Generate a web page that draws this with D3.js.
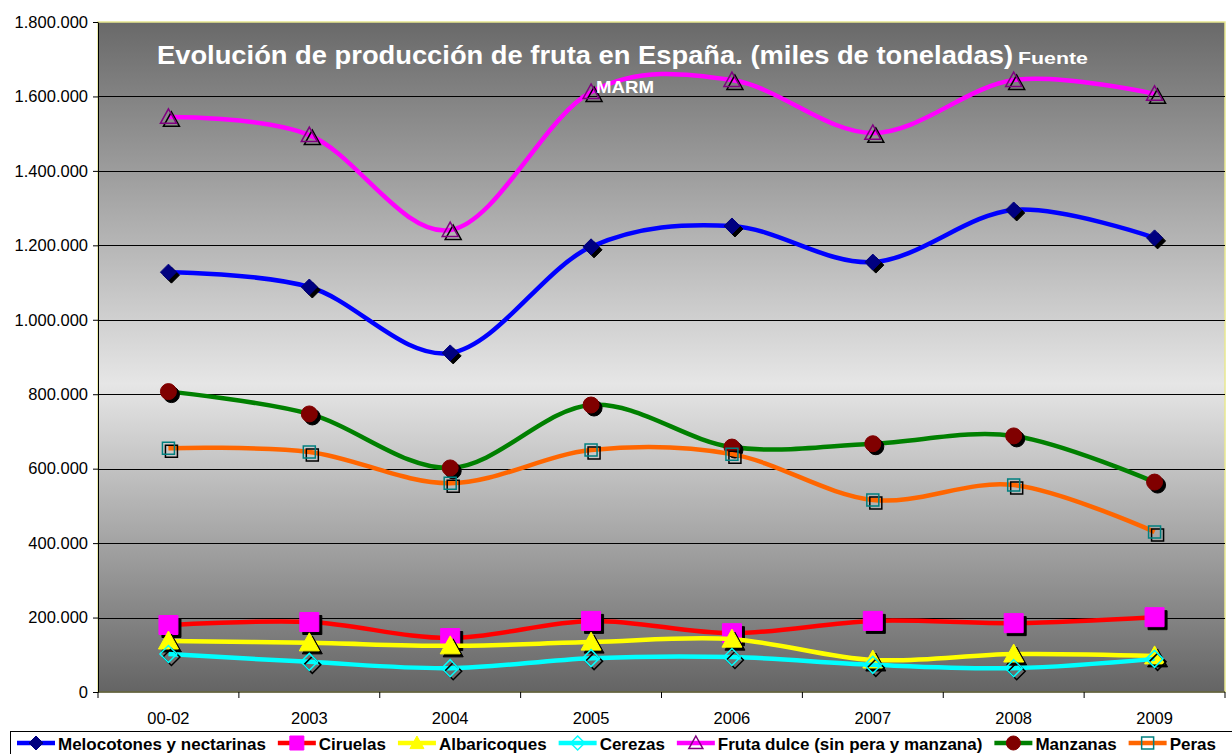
<!DOCTYPE html>
<html>
<head>
<meta charset="utf-8">
<script src="https://cdn.jsdelivr.net/npm/d3@7"></script>
<style>
  body { margin: 0; background: #fff; }
  svg { display: block; font-family: "Liberation Sans", Arial, sans-serif; }
</style>
</head>
<body>
<div id="graphicContainer"></div>
<script>
var years = ["00-02", "2003", "2004", "2005", "2006", "2007", "2008", "2009"]
var yTicks = [0, 200000, 400000, 600000, 800000, 1000000, 1200000, 1400000, 1600000, 1800000]

var melocotones = [1128000, 1088000, 911000, 1196000, 1252000, 1155000, 1295000, 1220000]
var ciruelas = [180000, 188000, 145000, 191000, 158000, 191000, 185000, 201000]
var albaricoques = [137000, 132000, 124000, 134000, 142000, 86000, 102000, 97000]
var cerezas = [102000, 81000, 64000, 91000, 94000, 73000, 64000, 89000]
var frutaDulce = [1545000, 1496000, 1241000, 1612000, 1644000, 1502000, 1644000, 1607000]
var manzanas = [807000, 747000, 602000, 771000, 658000, 667000, 688000, 564000]
var peras = [655000, 645000, 561000, 650000, 639000, 516000, 556000, 430000]

var series = [
	{name: "Melocotones y nectarinas", values: melocotones, line: "#0000ff", marker: "diamond", fill: "#000080", stroke: "#000080", size: 16},
	{name: "Ciruelas", values: ciruelas, line: "#ff0000", marker: "square", fill: "#ff00ff", stroke: "#ff00ff", size: 19},
	{name: "Albaricoques", values: albaricoques, line: "#ffff00", marker: "triangle", fill: "#ffff00", stroke: "#ffff00", size: 20},
	{name: "Cerezas", values: cerezas, line: "#00ffff", marker: "diamond", fill: "none", stroke: "#00ffff", size: 17},
	{name: "Fruta dulce (sin pera y manzana)", values: frutaDulce, line: "#ff00ff", marker: "triangle", fill: "none", stroke: "#800080", size: 16},
	{name: "Manzanas", values: manzanas, line: "#008000", marker: "circle", fill: "#800000", stroke: "#800000", size: 16},
	{name: "Peras", values: peras, line: "#ff6600", marker: "square", fill: "none", stroke: "#008080", size: 12}
]

var width = 1232, height = 754
var margin = {top: 22, right: 7, bottom: 62, left: 98}

var svg = d3.select("#graphicContainer").append("svg")
	.attr("width", width)
	.attr("height", height)

var defs = svg.append("defs")
var grad = defs.append("linearGradient")
	.attr("id", "bg")
	.attr("x1", 0).attr("y1", 0).attr("x2", 0).attr("y2", 1)
grad.append("stop").attr("offset", "0%").attr("stop-color", "#696969")
grad.append("stop").attr("offset", "54%").attr("stop-color", "#e6e6e6")
grad.append("stop").attr("offset", "100%").attr("stop-color", "#646464")

var x = d3.scaleBand()
	.domain(years)
	.range([margin.left, width - margin.right])

var y = d3.scaleLinear()
	.domain([0, 1800000])
	.range([height - margin.bottom, margin.top])

var fmt = d3.formatLocale({decimal: ",", thousands: ".", grouping: [3], currency: ["", ""]}).format(",")

// plot area
svg.append("rect")
	.attr("x", margin.left)
	.attr("y", margin.top)
	.attr("width", width - margin.left - margin.right)
	.attr("height", height - margin.top - margin.bottom)
	.attr("fill", "url(#bg)")
	.attr("stroke", "#e8e890")
	.attr("stroke-width", 1.5)

// gridlines
svg.append("g")
	.selectAll("line")
	.data(yTicks.filter(d => d > 0 && d < 1800000))
	.join("line")
		.attr("x1", margin.left)
		.attr("x2", width - margin.right)
		.attr("y1", d => Math.round(y(d)) + 0.5)
		.attr("y2", d => Math.round(y(d)) + 0.5)
		.attr("stroke", "#000")
		.attr("stroke-width", 1)

// y axis
var yAxis = svg.append("g")
	.attr("transform", `translate(${margin.left},0)`)
	.call(d3.axisLeft(y).tickValues(yTicks).tickFormat(fmt).tickSize(5).tickSizeOuter(0))
yAxis.select(".domain").attr("stroke", "#000")
yAxis.selectAll("text")
	.attr("font-size", 16.5)
	.attr("font-family", "Liberation Sans, Arial, sans-serif")
	.attr("fill", "#000")
	.attr("x", -10)

// x axis
var xAxisG = svg.append("g")
	.attr("transform", `translate(0,${height - margin.bottom})`)
xAxisG.append("line")
	.attr("x1", margin.left)
	.attr("x2", width - margin.right)
	.attr("stroke", "#000")
xAxisG.selectAll(".tk")
	.data(years.concat(["end"]))
	.join("line")
		.attr("class", "tk")
		.attr("x1", (d, i) => i < years.length ? x(d) : x.range()[1])
		.attr("x2", (d, i) => i < years.length ? x(d) : x.range()[1])
		.attr("y1", 0)
		.attr("y2", 6)
		.attr("stroke", "#000")
xAxisG.selectAll("text")
	.data(years)
	.join("text")
		.attr("x", d => x(d) + x.bandwidth() / 2)
		.attr("y", 32)
		.attr("text-anchor", "middle")
		.attr("font-size", 16.5)
		.text(d => d)

var line = d3.line()
	.curve(d3.curveCardinal.tension(0))
	.x((d, i) => x(years[i]) + x.bandwidth() / 2)
	.y(d => y(d))

function markerPath(type, size) {
	var s = size / 2
	if (type == "diamond") return `M0,${-s}L${s},0L0,${s}L${-s},0Z`
	if (type == "square") return `M${-s},${-s}H${s}V${s}H${-s}Z`
	if (type == "triangle") return `M0,${-s}L${s},${s * 0.8}L${-s},${s * 0.8}Z`
	return d3.arc()({innerRadius: 0, outerRadius: s, startAngle: 0, endAngle: 2 * Math.PI})
}

var plot = svg.append("g")

series.forEach(s => {
	var g = plot.append("g")
	g.append("path")
		.datum(s.values)
		.attr("fill", "none")
		.attr("stroke", s.line)
		.attr("stroke-width", 4.5)
		.attr("d", line)

	var pts = g.selectAll(".pt")
		.data(s.values)
		.join("g")
			.attr("class", "pt")
			.attr("transform", (d, i) => `translate(${x(years[i]) + x.bandwidth() / 2},${y(d)})`)
	// shadow
	pts.append("path")
		.attr("d", markerPath(s.marker, s.size))
		.attr("transform", "translate(3,3)")
		.attr("fill", s.fill == "none" ? "none" : "#000")
		.attr("stroke", "#000")
		.attr("stroke-width", s.fill == "none" ? 1.5 : 1)
	pts.append("path")
		.attr("d", markerPath(s.marker, s.size))
		.attr("fill", s.fill)
		.attr("stroke", s.stroke)
		.attr("stroke-width", s.fill == "none" ? 1.5 : 1)
})

// title
var titleG = svg.append("g")
	.attr("fill", "#fff")
	.attr("font-weight", "bold")
titleG.append("text")
	.attr("x", 157)
	.attr("y", 64)
	.attr("font-size", 26)
	.attr("textLength", 856)
	.attr("lengthAdjust", "spacingAndGlyphs")
	.text("Evolución de producción de fruta en España. (miles de toneladas)")
titleG.append("text")
	.attr("x", 1018)
	.attr("y", 64)
	.attr("font-size", 17)
	.attr("textLength", 70)
	.attr("lengthAdjust", "spacingAndGlyphs")
	.text("Fuente")
titleG.append("text")
	.attr("x", 596)
	.attr("y", 93)
	.attr("font-size", 17)
	.attr("textLength", 58)
	.attr("lengthAdjust", "spacingAndGlyphs")
	.text("MARM")

// legend
var legend = svg.append("g")
legend.append("rect")
	.attr("x", 10.5)
	.attr("y", 731.5)
	.attr("width", 1240)
	.attr("height", 40)
	.attr("fill", "#fff")
	.attr("stroke", "#000")

var lx = 17
series.forEach(s => {
	var item = legend.append("g").attr("transform", `translate(${lx},743)`)
	item.append("line")
		.attr("x1", 0).attr("x2", 38)
		.attr("stroke", s.line)
		.attr("stroke-width", 4.5)
	item.append("path")
		.attr("d", markerPath(s.marker, Math.min(s.size, 14)))
		.attr("transform", "translate(19,0)")
		.attr("fill", s.fill)
		.attr("stroke", s.stroke)
		.attr("stroke-width", s.fill == "none" ? 1.5 : 1)
	var t = item.append("text")
		.attr("x", 41)
		.attr("y", 7)
		.attr("font-size", 17)
		.attr("font-weight", "bold")
		.attr("fill", "#000")
		.text(s.name)
	lx += 41 + t.node().getComputedTextLength() + 12
})
</script>
</body>
</html>
